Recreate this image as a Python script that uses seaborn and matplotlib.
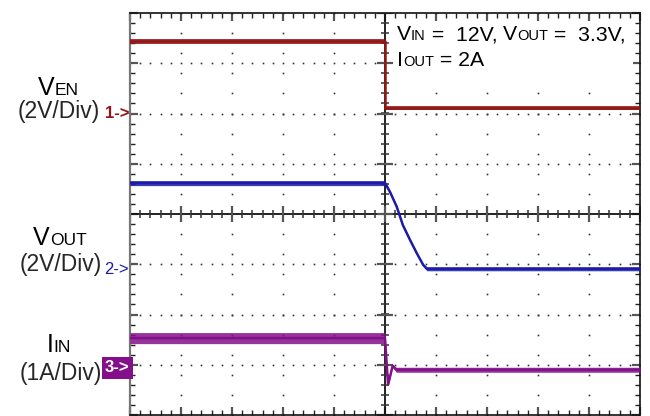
import numpy as np
import matplotlib
matplotlib.use("Agg")
import matplotlib.pyplot as plt
import seaborn as sns
from matplotlib.ticker import MultipleLocator
from matplotlib.offsetbox import TextArea, HPacker, AnnotationBbox
from matplotlib.patches import Rectangle

# --- scope settings (per channel): volts or amps per division, reference level in divisions
ch_scale = [2.0, 2.0, 1.0]
ch_offset = [2.0, -1.0, -3.0]

# --- traces; time is in divisions from the trigger point
en_t = [-5.0, 0.0, 0.0, 5.0]
en_v = [2.88, 2.88, 0.2, 0.2]
en_noise = [0.1, 0.1, 0.08, 0.08]

out_t = [-5.0, 0.0, 0.1, 0.23, 0.35, 0.49, 0.62, 0.75, 0.82, 5.0]
out_v = [3.23, 3.23, 2.87, 2.29, 1.56, 0.97, 0.45, -0.03, -0.18, -0.18]
out_noise = [0.1, 0.1, 0.05, 0.05, 0.05, 0.05, 0.05, 0.05, 0.08, 0.08]

iin_t = [-5.0, 0.0, 0.06, 0.15, 0.22, 5.0]
iin_a = [0.53, 0.53, -0.40, -0.02, -0.10, -0.10]
iin_noise = [0.11, 0.11, 0.02, 0.02, 0.05, 0.05]

colors = ["#921616", "#1c1ca8", "#83108a"]

W, H = 650, 416
FONT = ["Liberation Sans", "DejaVu Sans"]

sns.set_theme(style="white")
plt.rcParams["font.family"] = FONT

fig = plt.figure(figsize=(W / 100, H / 100), dpi=100)
ax = fig.add_axes([130 / W, 1 / H, 510 / W, 402 / H])
ax.set_xlim(-5, 5)
ax.set_ylim(-4, 4)

# graticule: dotted division lines
for gy in [-3, -2, -1, 1, 2, 3]:
    xs = np.arange(-5, 5.01, 0.2)
    ax.plot(xs, np.full(len(xs), gy), ls="none", marker="s", ms=1.2, mew=0, color="#333333", zorder=1)
for gx in [-4, -3, -2, -1, 1, 2, 3, 4]:
    ys = np.arange(-4, 4.01, 0.4)
    ax.plot(np.full(len(ys), gx), ys, ls="none", marker="s", ms=1.2, mew=0, color="#333333", zorder=1)

# center cross with ticks
ax.axhline(0, color="#111111", lw=1.3, zorder=1)
ax.axvline(0, color="#111111", lw=1.3, zorder=1)
mx = np.arange(-5, 5.01, 0.2)
my = np.arange(-4, 4.01, 0.2)
ax.plot(mx, np.zeros(len(mx)), ls="none", marker="|", ms=6, mew=1.1, color="#333333", zorder=1)
ax.plot(np.zeros(len(my)), my, ls="none", marker="_", ms=6, mew=1.1, color="#333333", zorder=1)
ax.plot(np.arange(-5, 6), np.zeros(11), ls="none", marker="|", ms=11, mew=1.6, color="#555555", zorder=1)
ax.plot(np.zeros(9), np.arange(-4, 5), ls="none", marker="_", ms=11, mew=1.6, color="#555555", zorder=1)

# border ticks
ax.xaxis.set_major_locator(MultipleLocator(1))
ax.yaxis.set_major_locator(MultipleLocator(1))
ax.xaxis.set_minor_locator(MultipleLocator(0.2))
ax.yaxis.set_minor_locator(MultipleLocator(0.2))
ax.tick_params(which="both", direction="in", top=True, right=True, bottom=True, left=True,
               labelbottom=False, labelleft=False)
ax.tick_params(which="major", length=6, width=1.6, color="#555555")
ax.tick_params(which="minor", length=3.8, width=1.0, color="#222222")
for name, s in ax.spines.items():
    s.set_color("#111111")
    s.set_linewidth(1.2)
ax.spines["left"].set_color("#777777")
ax.spines["left"].set_linewidth(1.6)

# traces
traces = [(en_t, en_v, en_noise), (out_t, out_v, out_noise), (iin_t, iin_a, iin_noise)]
for i, (t, v, n) in enumerate(traces):
    d = np.array(v) / ch_scale[i] + ch_offset[i]
    nd = np.array(n) / ch_scale[i]
    ax.fill_between(t, d - nd, d + nd, color=colors[i], alpha=0.85, lw=0, zorder=3)
    sns.lineplot(x=t, y=d, ax=ax, estimator=None, sort=False, color=colors[i], lw=1.8, zorder=4)

ax.set_xlabel("")
ax.set_ylabel("")


def fig_pos(x, y):
    return x / W, 1 - y / H


def rich_text(parts, x, y_base, ha=0.5, zorder=5):
    # parts: list of (text, fontsize); placed with baseline at y_base (pixels from top)
    boxes = [TextArea(s, textprops=dict(fontsize=fs, family=FONT, color="black")) for s, fs in parts]
    pack = HPacker(children=boxes, align="baseline", pad=0, sep=0)
    desc = 0.212 * max(fs for _, fs in parts) * 100 / 72
    ab = AnnotationBbox(pack, (x, H - y_base - desc), xycoords="figure pixels",
                        box_alignment=(ha, 0), frameon=False, pad=0, zorder=zorder)
    fig.add_artist(ab)


# channel labels on the left
rich_text([("V", 18), ("EN", 12.5)], 58, 95)
fig.text(*fig_pos(58.5, 118), "(2V/Div)", fontsize=16.5, ha="center", va="baseline")
rich_text([("V", 18), ("OUT", 12.5)], 60, 245)
fig.text(*fig_pos(60.5, 271.5), "(2V/Div)", fontsize=16.5, ha="center", va="baseline")
rich_text([("I", 18), ("IN", 12.5)], 59, 351.5)
fig.text(*fig_pos(60.5, 380), "(1A/Div)", fontsize=16.5, ha="center", va="baseline")

# channel reference markers
fig.text(*fig_pos(105, 114), "1->", fontsize=12, fontweight="bold", color=colors[0], ha="left", va="center")
fig.text(*fig_pos(104, 269), "2->", fontsize=12, color=colors[1], ha="left", va="center")
fig.text(*fig_pos(105, 368), "3->", fontsize=12, fontweight="bold", color="white", ha="left", va="center",
         bbox=dict(boxstyle="square,pad=0.2", fc=colors[2], ec="none"))

# test conditions box
fig.add_artist(Rectangle((393, H - 76), 240, 55, transform=None, fc="white", ec="none", zorder=4))
rich_text([("V", 15.3), ("IN", 10.5), (" =  12V, ", 15.3), ("V", 15.3), ("OUT", 10.5), (" =  3.3V,", 15.3)], 397, 39.5, ha=0)
rich_text([("I", 15.3), ("OUT", 10.5), (" = 2A", 15.3)], 397, 65.5, ha=0)

fig.savefig("out.png", dpi=100)
